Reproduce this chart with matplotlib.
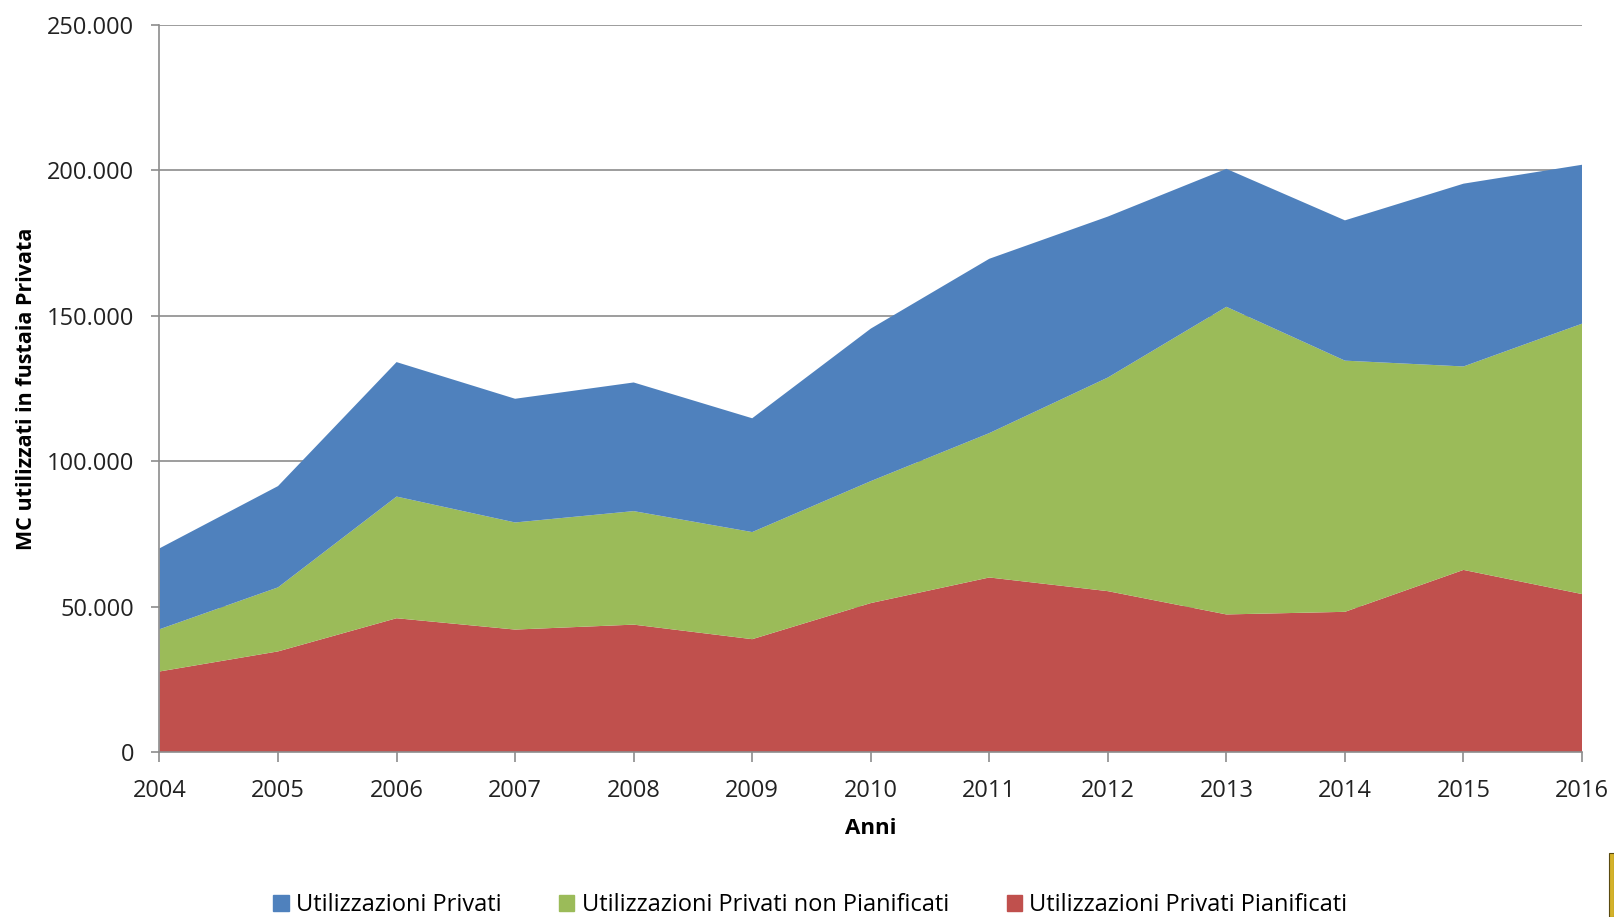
import matplotlib
matplotlib.use("Agg")
import matplotlib.pyplot as plt
from matplotlib.patches import Rectangle
from matplotlib.ticker import FuncFormatter

plt.rcParams['font.family'] = ['Open Sans', 'DejaVu Sans']

# Anni
anni = [2004, 2005, 2006, 2007, 2008, 2009, 2010, 2011, 2012, 2013, 2014, 2015, 2016]
# MC utilizzati
pianificati = [27800, 34700, 46100, 42200, 43900, 38900, 51300, 60100, 55400, 47400, 48300, 62700, 54400]
non_pianificati = [14500, 22000, 41800, 36800, 39000, 36800, 41900, 49600, 73400, 105700, 86300, 69900, 92900]
privati = [27800, 34800, 46200, 42500, 44200, 39100, 52400, 59900, 55300, 47400, 48200, 62800, 54600]

etichette = ["Utilizzazioni Privati", "Utilizzazioni Privati non Pianificati", "Utilizzazioni Privati Pianificati"]
col_blu = "#4F81BD"
col_verde = "#9BBB59"
col_rosso = "#C0504D"
grigio = "#8C8C8C"

fig = plt.figure(figsize=(16.14, 9.17), dpi=100)
ax = fig.add_axes([0.0988, 0.1795, 0.8814, 0.7935])

ax.stackplot(anni, pianificati, non_pianificati, privati,
             colors=[col_rosso, col_verde, col_blu], linewidth=0, zorder=2)

ax.set_xlim(anni[0], anni[-1])
ax.set_ylim(0, 250000)
ax.set_xticks(anni)
ax.set_yticks(range(0, 250001, 50000))
ax.yaxis.set_major_formatter(FuncFormatter(lambda v, p: "0" if v == 0 else f"{int(v):,}".replace(",", ".")))

ax.grid(axis="y", color=grigio, linewidth=1.2, zorder=1)
ax.set_axisbelow(True)
for lato in ["top", "right"]:
    ax.spines[lato].set_visible(False)
ax.spines["left"].set_color(grigio)
ax.spines["bottom"].set_color(grigio)
ax.spines["left"].set_linewidth(1.2)
ax.spines["bottom"].set_linewidth(1.2)

ax.tick_params(axis="both", colors=grigio, labelcolor="#222222", labelsize=17, width=1.2)
ax.tick_params(axis="y", length=6, pad=12)
ax.tick_params(axis="x", length=7, pad=12)

ax.set_xlabel("Anni", fontsize=16, fontweight="bold", labelpad=11)
ax.set_ylabel("MC utilizzati in fustaia Privata", fontsize=15.5, fontweight="bold")
ax.yaxis.set_label_coords(-0.086, 0.5)

maniglie = [Rectangle((0, 0), 1, 1, color=c) for c in (col_blu, col_verde, col_rosso)]
fig.legend(maniglie, etichette, loc="center", bbox_to_anchor=(0.502, 0.013), ncol=3,
           frameon=False, fontsize=17, handlelength=0.65, handleheight=0.65,
           handletextpad=0.3, columnspacing=2.45)

# barretta gialla in basso a destra (bordo della slide)
fig.patches.append(Rectangle((1609 / 1614, 0), 5 / 1614, 64 / 917, transform=fig.transFigure,
                             facecolor="#D4B22A", edgecolor="#5A4A10", linewidth=0.8))

fig.savefig("out.png", dpi=100)
